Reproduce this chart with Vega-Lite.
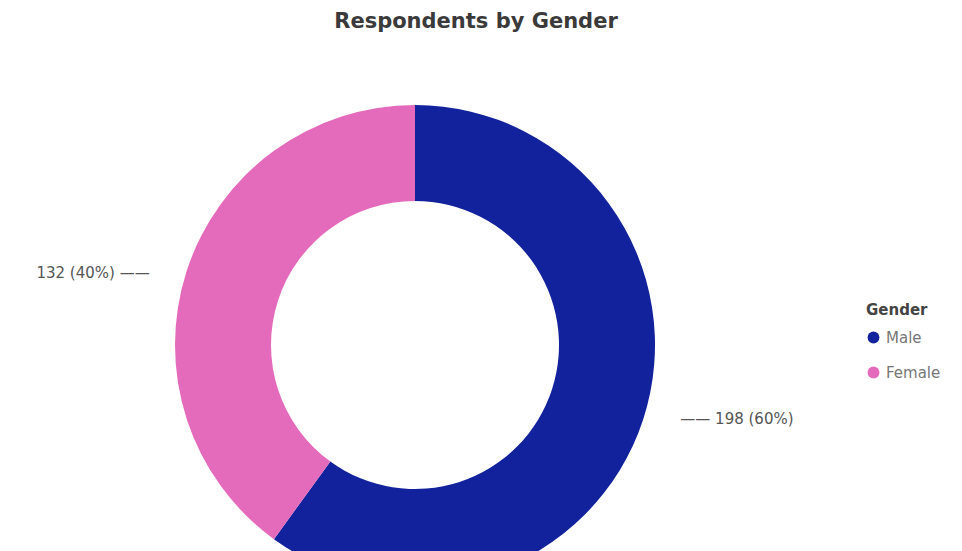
{
  "$schema": "https://vega.github.io/schema/vega-lite/v6.json",
  "autosize": "none",
  "width": 830,
  "height": 590,
  "padding": {"top": 50, "left": 0, "right": 132, "bottom": 0},
  "background": "white",
  "title": {
    "text": "Respondents by Gender",
    "font": "DejaVu Sans",
    "fontSize": 21,
    "fontWeight": "bold",
    "color": "#3a3a3a",
    "anchor": "middle",
    "dx": 61,
    "offset": 18
  },
  "config": {"view": {"stroke": null}},
  "data": {
    "values": [
      {"gender": "Male", "count": 198, "label_r": "—— 198 (60%)", "label_l": ""},
      {"gender": "Female", "count": 132, "label_r": "", "label_l": "132 (40%) ——"}
    ]
  },
  "encoding": {
    "theta": {"field": "count", "type": "quantitative", "stack": true},
    "order": {"field": "count", "type": "quantitative", "sort": "descending"}
  },
  "layer": [
    {
      "mark": {"type": "arc", "innerRadius": 144, "outerRadius": 240},
      "encoding": {
        "color": {
          "field": "gender",
          "type": "nominal",
          "sort": ["Male", "Female"],
          "scale": {"domain": ["Male", "Female"], "range": ["#12229c", "#e46abb"]},
          "legend": {
            "title": "Gender",
            "orient": "none",
            "legendX": 866,
            "legendY": 253,
            "symbolType": "circle",
            "symbolSize": 140,
            "symbolStrokeWidth": 0,
            "titleFont": "DejaVu Sans",
            "titleFontSize": 15,
            "titleFontWeight": "bold",
            "titleColor": "#444",
            "labelFont": "DejaVu Sans",
            "labelFontSize": 15,
            "labelColor": "#777",
            "rowPadding": 19,
            "titlePadding": 12,
            "labelOffset": 5
          }
        }
      }
    },
    {
      "mark": {"type": "text", "radius": 279, "align": "left", "baseline": "middle", "dy": -12, "font": "DejaVu Sans", "fontSize": 15, "color": "#555"},
      "encoding": {"text": {"field": "label_r", "type": "nominal"}}
    },
    {
      "mark": {"type": "text", "radius": 279, "align": "right", "baseline": "middle", "dy": 14, "font": "DejaVu Sans", "fontSize": 15, "color": "#555"},
      "encoding": {"text": {"field": "label_l", "type": "nominal"}}
    }
  ]
}
